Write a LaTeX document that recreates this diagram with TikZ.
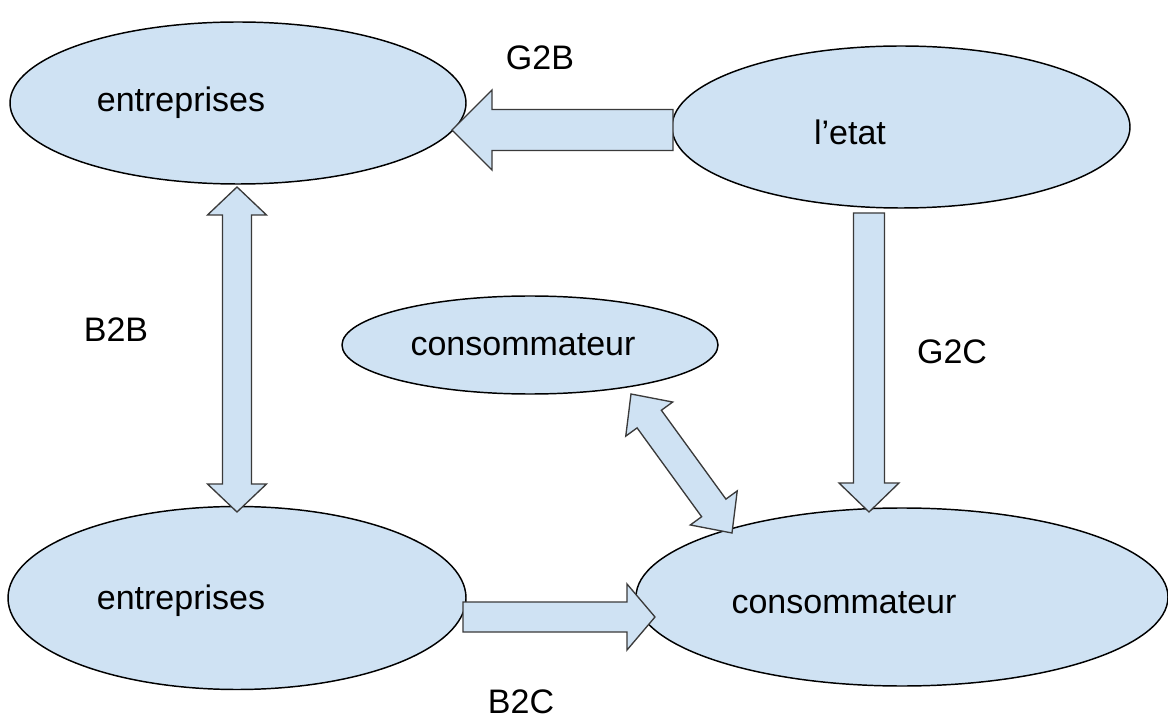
\documentclass[tikz,border=0pt]{standalone}
\usepackage{fontspec}
\setmainfont{Liberation Sans}
\usetikzlibrary{shapes.geometric,calc}
\definecolor{fillblue}{HTML}{CFE2F3}
\definecolor{edgegray}{HTML}{3A3A3A}
\tikzset{
  oval/.style={ellipse, draw=black, line width=1.1pt, fill=fillblue, inner sep=0pt},
  lbl/.style={font=\fontsize{25.5}{30}\selectfont, text=black, inner sep=0pt},
  barrow/.style={draw=edgegray, fill=fillblue, line width=1pt, line join=miter}
}
% single block arrow: #1 tail, #2 tip, #3 shaft half-width, #4 head half-width, #5 head length (px)
\newcommand{\blockarrow}[5]{%
  \coordinate (tmpC) at ($(#2)!#5*0.75pt!(#1)$);
  \draw[barrow] ($(#1)!#3*0.75pt!90:(#2)$) -- ($(tmpC)!#3*0.75pt!90:(#2)$)
    -- ($(tmpC)!#4*0.75pt!90:(#2)$) -- (#2) -- ($(tmpC)!#4*0.75pt!-90:(#2)$)
    -- ($(tmpC)!#3*0.75pt!-90:(#2)$) -- ($(#1)!#3*0.75pt!-90:(#2)$) -- cycle;}
% double block arrow
\newcommand{\dblockarrow}[5]{%
  \coordinate (tmpA) at ($(#1)!#5*0.75pt!(#2)$);
  \coordinate (tmpB) at ($(#2)!#5*0.75pt!(#1)$);
  \draw[barrow] (#1) -- ($(tmpA)!#4*0.75pt!90:(#2)$) -- ($(tmpA)!#3*0.75pt!90:(#2)$)
    -- ($(tmpB)!#3*0.75pt!90:(#2)$) -- ($(tmpB)!#4*0.75pt!90:(#2)$) -- (#2)
    -- ($(tmpB)!#4*0.75pt!-90:(#2)$) -- ($(tmpB)!#3*0.75pt!-90:(#2)$)
    -- ($(tmpA)!#3*0.75pt!-90:(#2)$) -- ($(tmpA)!#4*0.75pt!-90:(#2)$) -- cycle;}
\begin{document}
\begin{tikzpicture}[x=0.75pt,y=-0.75pt]
\useasboundingbox (0,0) rectangle (1168,720);
\fill[white] (0,0) rectangle (1168,720);
% ellipses
\node[oval, minimum width=456*0.75pt, minimum height=162*0.75pt] (ent1) at (238,103) {};
\node[oval, minimum width=458*0.75pt, minimum height=162*0.75pt] (etat) at (901,127) {};
\node[oval, minimum width=376*0.75pt, minimum height=98*0.75pt] (cons1) at (530,345) {};
\node[oval, minimum width=458*0.75pt, minimum height=183*0.75pt] (ent2) at (237,598) {};
\node[oval, minimum width=532*0.75pt, minimum height=178*0.75pt] (cons2) at (902,597) {};
% texts
\node[lbl] (t1) at (181,103) {entreprises};
\node[lbl] (t2) at (850,132) {l’etat};
\node[lbl] (t3) at (523,345) {consommateur};
\node[lbl] (t4) at (181,601) {entreprises};
\node[lbl] (t5) at (844,603) {consommateur};
\node[lbl] (g2b) at (540,58) {G2B};
\node[lbl] (b2b) at (116,330) {B2B};
\node[lbl] (g2c) at (952,352) {G2C};
\node[lbl] (b2c) at (521,702) {B2C};
% connector end points
\coordinate (g2bTail) at ($(etat.center)+(-228,3)$);
\coordinate (g2bTip) at ($(ent1.center)+(214,27)$);
\coordinate (b2bTop) at ($(ent1.center)+(-1,84)$);
\coordinate (b2bBot) at ($(ent2.center)+(0,-86)$);
\coordinate (g2cTail) at ($(etat.center)+(-32,86)$);
\coordinate (g2cTip) at ($(cons2.center)+(-33,-85)$);
\coordinate (b2cTail) at ($(ent2.center)+(226,19)$);
\coordinate (b2cTip) at ($(cons2.center)+(-247,20)$);
\coordinate (ccTop) at ($(cons1.center)+(101,49)$);
\coordinate (ccBot) at ($(cons2.center)+(-170,-64)$);
% arrows
\blockarrow{g2bTail}{g2bTip}{20.5}{40}{40}
\dblockarrow{b2bTop}{b2bBot}{14.5}{29.5}{28}
\blockarrow{g2cTail}{g2cTip}{15.5}{30}{29}
\blockarrow{b2cTail}{b2cTip}{15}{33}{28}
\dblockarrow{ccTop}{ccBot}{15}{29}{31}
\end{tikzpicture}
\end{document}
